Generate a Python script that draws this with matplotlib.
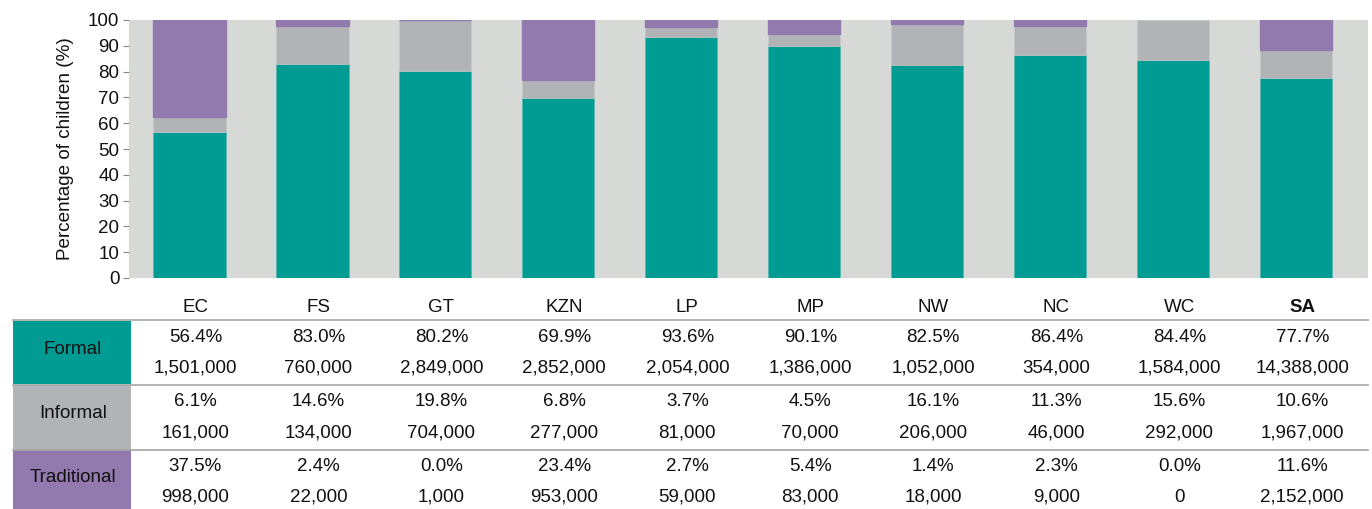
import matplotlib
matplotlib.use("Agg")
import matplotlib.pyplot as plt
from matplotlib.patches import Rectangle
from matplotlib.lines import Line2D
import numpy as np

plt.rcParams['font.family'] = ['Liberation Sans', 'DejaVu Sans']

categories = ["EC", "FS", "GT", "KZN", "LP", "MP", "NW", "NC", "WC", "SA"]
formal_pct = [56.4, 83.0, 80.2, 69.9, 93.6, 90.1, 82.5, 86.4, 84.4, 77.7]
informal_pct = [6.1, 14.6, 19.8, 6.8, 3.7, 4.5, 16.1, 11.3, 15.6, 10.6]
traditional_pct = [37.5, 2.4, 0.0, 23.4, 2.7, 5.4, 1.4, 2.3, 0.0, 11.6]
formal_n = ["1,501,000", "760,000", "2,849,000", "2,852,000", "2,054,000", "1,386,000", "1,052,000", "354,000", "1,584,000", "14,388,000"]
informal_n = ["161,000", "134,000", "704,000", "277,000", "81,000", "70,000", "206,000", "46,000", "292,000", "1,967,000"]
traditional_n = ["998,000", "22,000", "1,000", "953,000", "59,000", "83,000", "18,000", "9,000", "0", "2,152,000"]
row_names = ["Formal", "Informal", "Traditional"]

c_formal = "#009B93"
c_inf = "#B2B3B6"
c_trad = "#9279AE"
bg = "#D7D9D6"

W, H = 1372, 509
fig = plt.figure(figsize=(W / 100, H / 100), dpi=100)
ax = fig.add_axes([129 / W, 1 - 278 / H, (1368 - 129) / W, (278 - 20) / H])
ax.set_facecolor(bg)
x = np.arange(len(categories))
f = np.array(formal_pct)
i_ = np.array(informal_pct)
t = np.array(traditional_pct)
bw = 0.59
ax.bar(x, f, bw, color=c_formal, edgecolor="#4fb8b0", linewidth=0.4)
ax.bar(x, i_, bw, bottom=f, color=c_inf, edgecolor="#c8c9cb", linewidth=0.4)
trad_edges = [c_trad if n != "0" else "none" for n in traditional_n]
ax.bar(x, t, bw, bottom=f + i_, color=c_trad, edgecolor=trad_edges, linewidth=1.0)
ax.set_xlim(-0.49, 9.585)
ax.set_ylim(0, 100)
ax.set_yticks(range(0, 101, 10))
ax.set_xticks([])
for s in ax.spines.values():
    s.set_visible(False)
ax.tick_params(axis='y', length=4, width=0.8, color="#888888", labelsize=13.5, pad=3, labelcolor="#111111")
ax.set_ylabel("Percentage of children (%)", fontsize=13.6, color="#111111", labelpad=10)

# Table
fig_tr = fig.transFigure
def fy(py):
    return 1 - py / H

trans = matplotlib.transforms.blended_transform_factory(ax.transData, fig_tr)
col_off = 0.05
for k, cat in enumerate(categories):
    xc = k + col_off
    fw = 'bold' if cat == "SA" else 'normal'
    fig.text(xc, fy(308), cat, transform=trans, ha='center', va='center', fontsize=13.5, fontweight=fw, color="#111111")
    rows = [(formal_pct, formal_n), (informal_pct, informal_n), (traditional_pct, traditional_n)]
    for r, (pcts, ns) in enumerate(rows):
        y0 = 337.5 + 64.5 * r
        fig.text(xc, fy(y0), f"{pcts[k]:.1f}%", transform=trans, ha='center', va='center', fontsize=13.5, color="#111111")
        fig.text(xc, fy(y0 + 30.5), ns[k], transform=trans, ha='center', va='center', fontsize=13.5, color="#111111")

row_tops = [320.5, 385, 450]
row_bots = [384, 449.5, 512]
row_label_y = [349, 413, 478]
row_cols = [c_formal, c_inf, c_trad]
for r, name in enumerate(row_names):
    rect = Rectangle((13 / W, fy(row_bots[r])), (131 - 13) / W, (row_bots[r] - row_tops[r]) / H,
                     transform=fig_tr, facecolor=row_cols[r], edgecolor='none')
    fig.add_artist(rect)
    fig.text(73 / W, fy(row_label_y[r]), name, ha='center', va='center', fontsize=13.5, color="#111111")
    fig.add_artist(Line2D([13 / W, 1368 / W], [fy(row_tops[r] - 0.5)] * 2, transform=fig_tr,
                          color="#A3A7A3", linewidth=1.2))

fig.savefig("out.png", dpi=100)
